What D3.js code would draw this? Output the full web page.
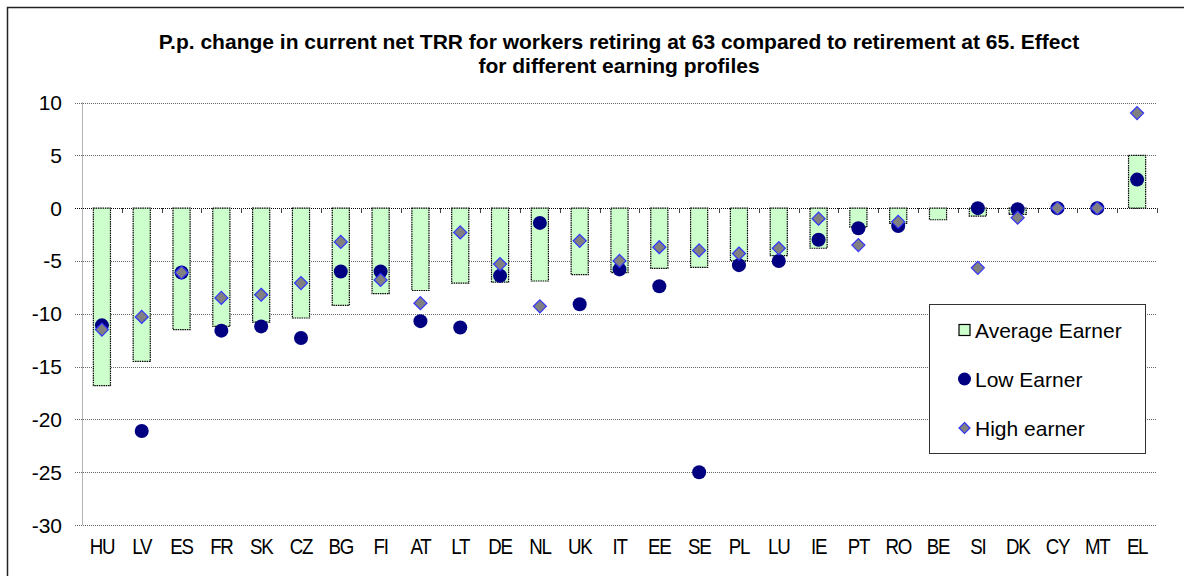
<!DOCTYPE html>
<html>
  <head>
    <meta charset="utf-8">
    <style>
      body { margin: 0; background: #fff; }
      text { font-family: "Liberation Sans", Arial, sans-serif; fill: #000; }
    </style>
  </head>
  <body>
    <div class="chart-container"></div>
    <script src="https://cdn.jsdelivr.net/npm/d3@7"></script>
    <script>

var countries = ['HU', 'LV', 'ES', 'FR', 'SK', 'CZ', 'BG', 'FI', 'AT', 'LT', 'DE', 'NL', 'UK', 'IT',
  'EE', 'SE', 'PL', 'LU', 'IE', 'PT', 'RO', 'BE', 'SI', 'DK', 'CY', 'MT', 'EL'];
var averageEarner = [-16.8, -14.5, -11.5, -11.2, -10.8, -10.4, -9.2, -8.1, -7.8, -7.1, -7.0, -6.9, -6.3, -6.1,
  -5.7, -5.6, -5.0, -4.5, -3.8, -1.8, -1.45, -1.1, -0.75, -0.6, 0, 0, 5.0];
var lowEarner = [-11.1, -21.1, -6.1, -11.6, -11.2, -12.3, -6.0, -6.0, -10.7, -11.3, -6.4, -1.4, -9.1, -5.8,
  -7.4, -25.0, -5.4, -5.0, -3.0, -1.9, -1.7, null, 0.0, -0.1, 0, 0, 2.7];
var highEarner = [-11.5, -10.3, -6.1, -8.5, -8.2, -7.1, -3.2, -6.8, -9.0, -2.3, -5.3, -9.3, -3.1, -5.0,
  -3.7, -4.0, -4.3, -3.8, -1.0, -3.5, -1.3, null, -5.65, -0.9, 0, 0, 9.0];
var yTicks = [10, 5, 0, -5, -10, -15, -20, -25, -30];
var titleLines = ['P.p. change in current net TRR for workers retiring at 63 compared to retirement at 65. Effect',
  'for different earning profiles'];
var legendLabels = ['Average Earner', 'Low Earner', 'High earner'];

var width = 1184;
var height = 576;
var plotLeft = 82, plotRight = 1157, plotTop = 102.5, plotBottom = 525;

var svg = d3.select('.chart-container').append('svg')
    .attr('width', width)
    .attr('height', height);

// outer frame
svg.append('rect')
  .attr('x', 7.5).attr('y', 7.5)
  .attr('width', width).attr('height', height)
  .attr('fill', 'none')
  .attr('stroke', '#222')
  .attr('stroke-width', 1.5);

svg.selectAll('.title')
  .data(titleLines)
  .enter().append('text')
    .attr('x', 619)
    .attr('y', function (d, i) { return 49 + i * 24; })
    .attr('text-anchor', 'middle')
    .style('font-weight', 'bold')
    .style('font-size', '21px')
    .text(function (d) { return d; });

var x = d3.scaleBand()
    .domain(countries)
    .range([plotLeft, plotRight])
    .padding(0);

var y = d3.scaleLinear()
    .domain([-30, 10])
    .range([plotBottom, plotTop]);

var barW = x.bandwidth() * 0.43;

// gridlines
svg.selectAll('.grid')
  .data(yTicks)
  .enter().append('line')
    .attr('x1', plotLeft - 7)
    .attr('x2', plotRight)
    .attr('y1', function (d) { return Math.round(y(d)) + 0.5; })
    .attr('y2', function (d) { return Math.round(y(d)) + 0.5; })
    .attr('stroke', function (d) { return d === 0 ? '#000' : '#666'; })
    .attr('stroke-width', 1)
    .attr('stroke-dasharray', '1,1');

// y axis line
svg.append('line')
  .attr('x1', plotLeft + 0.5).attr('x2', plotLeft + 0.5)
  .attr('y1', y(10)).attr('y2', y(-30))
  .attr('stroke', '#666')
  .attr('stroke-dasharray', '1,1');

svg.selectAll('.ylab')
  .data(yTicks)
  .enter().append('text')
    .attr('x', 62)
    .attr('y', function (d) { return y(d) + 7.5; })
    .attr('text-anchor', 'end')
    .style('font-size', '21px')
    .text(function (d) { return d; });

// category ticks on zero line
svg.selectAll('.xtick')
  .data(countries)
  .enter().append('line')
    .attr('x1', function (d) { return Math.round(x(d) + x.step()) + 0.5; })
    .attr('x2', function (d) { return Math.round(x(d) + x.step()) + 0.5; })
    .attr('y1', Math.round(y(0)))
    .attr('y2', Math.round(y(0)) + 5)
    .attr('stroke', '#444');

// bars
svg.selectAll('.bar')
  .data(countries)
  .enter().append('rect')
    .attr('x', function (d) { return x(d) + (x.bandwidth() - barW) / 2; })
    .attr('y', function (d, i) { return y(Math.max(0, averageEarner[i])); })
    .attr('width', barW)
    .attr('height', function (d, i) { return Math.abs(y(averageEarner[i]) - y(0)); })
    .attr('fill', '#ccffcc')
    .attr('stroke', '#000')
    .attr('stroke-width', 1.2)
    .attr('stroke-dasharray', '1.5,0.8');

// low earner circles
svg.selectAll('.low')
  .data(countries.filter(function (d, i) { return lowEarner[i] !== null; }))
  .enter().append('circle')
    .attr('cx', function (d) { return x(d) + x.bandwidth() / 2; })
    .attr('cy', function (d) { return y(lowEarner[countries.indexOf(d)]); })
    .attr('r', 7)
    .attr('fill', '#000080');

var diamond = 'M0,-6.5L6.5,0L0,6.5L-6.5,0Z';

// high earner diamonds
svg.selectAll('.high')
  .data(countries.filter(function (d, i) { return highEarner[i] !== null; }))
  .enter().append('path')
    .attr('transform', function (d) {
      return 'translate(' + (x(d) + x.bandwidth() / 2) + ',' + y(highEarner[countries.indexOf(d)]) + ')';
    })
    .attr('d', diamond)
    .attr('fill', '#808080')
    .attr('stroke', '#3333ff')
    .attr('stroke-width', 1.2);

// x labels (condensed look)
svg.selectAll('.xlab')
  .data(countries)
  .enter().append('text')
    .attr('transform', function (d) {
      return 'translate(' + (x(d) + x.bandwidth() / 2) + ',554) scale(0.85,1)';
    })
    .attr('text-anchor', 'middle')
    .style('font-size', '22px')
    .style('letter-spacing', '-1.5px')
    .text(function (d) { return d; });

// legend
var lg = svg.append('g');
lg.append('rect')
  .attr('x', 929.5).attr('y', 304.5)
  .attr('width', 216).attr('height', 149)
  .attr('fill', '#fff')
  .attr('stroke', '#333');

var ly = [330, 379, 428];
lg.append('rect')
  .attr('x', 959).attr('y', ly[0] - 5.5)
  .attr('width', 11).attr('height', 11)
  .attr('fill', '#ccffcc').attr('stroke', '#000').attr('stroke-width', 1.2);
lg.append('circle')
  .attr('cx', 964.5).attr('cy', ly[1])
  .attr('r', 6.5).attr('fill', '#000080');
lg.append('path')
  .attr('transform', 'translate(964.5,' + ly[2] + ')')
  .attr('d', 'M0,-5.5L5.5,0L0,5.5L-5.5,0Z')
  .attr('fill', '#808080').attr('stroke', '#3333ff').attr('stroke-width', 1.2);

lg.selectAll('.ltext')
  .data(legendLabels)
  .enter().append('text')
    .attr('x', 975)
    .attr('y', function (d, i) { return ly[i] + 7.5; })
    .style('font-size', '21px')
    .text(function (d) { return d; });

  </script>
</body>
</html>
